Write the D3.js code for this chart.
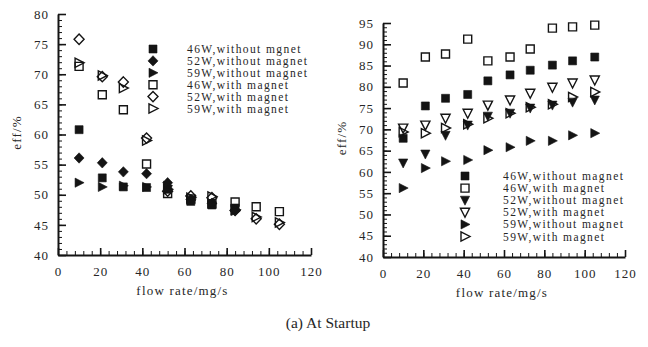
<!DOCTYPE html>
<html><head><meta charset="utf-8">
<script src="https://cdn.jsdelivr.net/npm/d3@7"></script>
<style>
body{margin:0;background:#fff}
svg{display:block}
text{font-family:"Liberation Serif","Times New Roman",serif;fill:#262626}
</style></head><body>
<svg id="c" width="648" height="347"></svg>
<script>
// ---------- data ----------
const flowRates = [10, 21, 31, 42, 52, 63, 73, 84, 94, 105];
const xTickLabels = [0, 20, 40, 60, 80, 100, 120];
const leftYTicks = [40, 45, 50, 55, 60, 65, 70, 75, 80];
const rightYTicks = [40, 45, 50, 55, 60, 65, 70, 75, 80, 85, 90, 95];

// left panel series
const leftNames = ["46W,without mgnet", "52W,without magnet", "59W,without magnet",
                   "46W,with magnet", "52W,with magnet", "59W,with magnet"];
const left46NoMag = [60.8, 52.8, 51.3, 51.2, 50.9, 48.9, 48.3, 47.8, null, null];
const left52NoMag = [56.1, 55.3, 53.8, 53.5, 52.0, 49.2, 48.6, 47.4, null, null];
const left59NoMag = [52.0, 51.3, 51.5, 51.3, 51.5, 49.1, 48.5, 47.3, null, null];
const left46Mag   = [71.3, 66.6, 64.1, 55.1, 50.2, 49.3, 48.5, 48.8, 48.0, 47.2];
const left52Mag   = [75.8, 69.6, 68.7, 59.4, 50.6, 49.8, 49.5, 47.4, 46.0, 45.1];
const left59Mag   = [71.9, 69.8, 67.7, 59.0, 50.9, 49.5, 49.7, 47.5, 46.3, 45.4];

// right panel series
const rightNames = ["46W,without magnet", "46W,with magnet", "52W,without magnet",
                    "52W,with magnet", "59W,without magnet", "59W,with magnet"];
const right46NoMag = [67.9, 75.5, 77.3, 78.2, 81.4, 82.8, 83.9, 85.1, 86.1, 87.0];
const right46Mag   = [80.9, 87.0, 87.7, 91.2, 86.1, 87.0, 88.9, 93.8, 94.1, 94.5];
const right52NoMag = [62.1, 64.2, 68.6, 71.0, 73.1, 73.8, 75.0, 75.7, 76.4, 76.9];
const right52Mag   = [70.3, 71.0, 72.6, 73.8, 75.7, 76.9, 78.5, 79.9, 80.9, 81.6];
const right59NoMag = [56.2, 60.9, 62.5, 62.8, 65.1, 65.8, 67.3, 67.3, 68.6, 69.1];
const right59Mag   = [69.4, 69.1, 70.3, 71.2, 72.6, 73.8, 75.2, 75.9, 77.6, 78.8];

const xTitle = "flow rate/mg/s";
const yTitle = "eff/%";
const caption = "(a) At Startup";

// ---------- drawing ----------
const svg = d3.select("#c");
const INK = "#141414";

function shape(type) {
  switch (type) {
    case "square": return "M-4,-4h8v8h-8z";
    case "diamond": return "M0,-5.2L5,0L0,5.2L-5,0Z";
    case "triRight": return "M-4,-4.6L5,0L-4,4.6Z";
    case "triDown": return "M-4.6,-4L4.6,-4L0,5Z";
  }
}

function panel(cfg) {
  const g = svg.append("g");
  const x = d3.scaleLinear().domain([0, 120]).range(cfg.xr);
  const y = d3.scaleLinear().domain(cfg.yd).range(cfg.yr);

  // minor ticks
  g.append("g").attr("transform", `translate(${cfg.xr[0]},0)`)
    .call(d3.axisLeft(y).tickValues(d3.range(cfg.yd[0], cfg.yd[1] + 0.01, 1))
      .tickSize(-4).tickSizeOuter(0).tickFormat(""))
    .call(a => a.select(".domain").remove())
    .selectAll("line").attr("stroke", INK).attr("stroke-width", 1);
  g.append("g").attr("transform", `translate(0,${cfg.yr[0]})`)
    .call(d3.axisBottom(x).tickValues(d3.range(0, 120.01, 4))
      .tickSize(-4).tickSizeOuter(0).tickFormat(""))
    .call(a => a.select(".domain").remove())
    .selectAll("line").attr("stroke", INK).attr("stroke-width", 1);

  // major axes
  const ya = g.append("g").attr("transform", `translate(${cfg.xr[0]},0)`)
    .call(d3.axisLeft(y).tickValues(cfg.yTicks).tickSize(-8).tickSizeOuter(0).tickPadding(9));
  const xa = g.append("g").attr("transform", `translate(0,${cfg.yr[0]})`)
    .call(d3.axisBottom(x).tickValues(xTickLabels).tickSize(-7).tickSizeOuter(0).tickPadding(12));
  [ya, xa].forEach(a => {
    a.select(".domain").attr("stroke", INK).attr("stroke-width", 2);
    a.selectAll("line").attr("stroke", INK).attr("stroke-width", 1.6);
    a.selectAll("text").attr("font-family", "Liberation Serif").attr("font-size", 13)
      .attr("fill", "#2a2a2a").style("letter-spacing", "1px");
  });

  // series
  const order = cfg.series.slice().sort((a, b) => (a.filled === b.filled) ? 0 : (a.filled ? -1 : 1));
  order.forEach(s => {
    const pts = flowRates.map((fr, i) => ({fr, v: s.values[i]})).filter(d => d.v != null);
    g.append("g").selectAll("path").data(pts).join("path")
      .attr("d", shape(s.shape))
      .attr("transform", d => `translate(${x(d.fr)},${y(d.v)})`)
      .attr("fill", s.filled ? INK : "none")
      .attr("stroke", INK).attr("stroke-width", s.filled ? 0.6 : 1.4);
  });

  // legend
  cfg.series.forEach((s, i) => {
    const ly = cfg.legY + i * cfg.legStep;
    g.append("path").attr("d", shape(s.shape))
      .attr("transform", `translate(${cfg.legMX},${ly})`)
      .attr("fill", s.filled ? INK : "none")
      .attr("stroke", INK).attr("stroke-width", s.filled ? 0.6 : 1.4);
    g.append("text").attr("x", cfg.legTX).attr("y", ly + 4)
      .attr("font-size", 11.5).style("letter-spacing", "1.4px").attr("fill", "#333")
      .text(s.name);
  });

  // titles
  g.append("text").attr("x", (cfg.xr[0] + cfg.xr[1]) / 2 - 2).attr("y", cfg.yr[0] + 40)
    .attr("text-anchor", "middle").attr("font-size", 13).style("letter-spacing", "1.2px")
    .attr("fill", "#2a2a2a").text(xTitle);
  g.append("text")
    .attr("transform", `translate(${cfg.yTitleX},${(cfg.yr[0] + cfg.yr[1]) / 2 - 2}) rotate(-90)`)
    .attr("text-anchor", "middle").attr("font-size", 13).style("letter-spacing", "1.2px")
    .attr("fill", "#2a2a2a").text(yTitle);
}

panel({
  xr: [58, 311], yd: [40, 80], yr: [255, 14], yTicks: leftYTicks, yTitleX: 21,
  legMX: 153, legTX: 187, legY: 49, legStep: 11.9,
  series: [
    {name: leftNames[0], values: left46NoMag, shape: "square", filled: true},
    {name: leftNames[1], values: left52NoMag, shape: "diamond", filled: true},
    {name: leftNames[2], values: left59NoMag, shape: "triRight", filled: true},
    {name: leftNames[3], values: left46Mag, shape: "square", filled: false},
    {name: leftNames[4], values: left52Mag, shape: "diamond", filled: false},
    {name: leftNames[5], values: left59Mag, shape: "triRight", filled: false}
  ]
});

panel({
  xr: [383, 625], yd: [40, 95], yr: [257, 23], yTicks: rightYTicks, yTitleX: 346,
  legMX: 465, legTX: 503, legY: 176, legStep: 12.1,
  series: [
    {name: rightNames[0], values: right46NoMag, shape: "square", filled: true},
    {name: rightNames[1], values: right46Mag, shape: "square", filled: false},
    {name: rightNames[2], values: right52NoMag, shape: "triDown", filled: true},
    {name: rightNames[3], values: right52Mag, shape: "triDown", filled: false},
    {name: rightNames[4], values: right59NoMag, shape: "triRight", filled: true},
    {name: rightNames[5], values: right59Mag, shape: "triRight", filled: false}
  ]
});

svg.append("text").attr("x", 328).attr("y", 328).attr("text-anchor", "middle")
  .attr("font-size", 15.5).attr("fill", "#1a1a1a").text(caption);
</script>
</body></html>
